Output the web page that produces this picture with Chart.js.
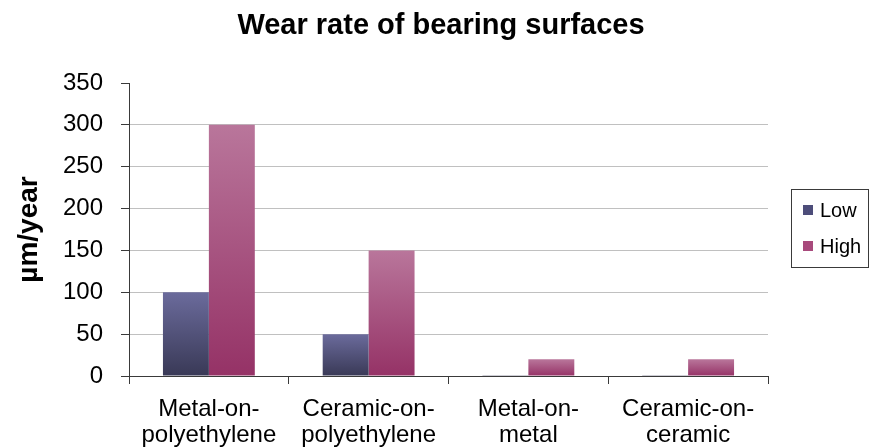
<!DOCTYPE html>
<html>
<head>
<meta charset="utf-8">
<script src="https://cdn.jsdelivr.net/npm/chart.js@4/dist/chart.umd.min.js"></script>
<style>
  html, body { margin: 0; padding: 0; background: #ffffff; }
  #wrap { width: 871px; height: 448px; }
</style>
</head>
<body>
<div id="wrap"><canvas id="chart" width="871" height="448"></canvas></div>
<script>
// Wear rate per bearing couple (µm/year)
const categories = [
  ['Metal-on-', 'polyethylene'],
  ['Ceramic-on-', 'polyethylene'],
  ['Metal-on-', 'metal'],
  ['Ceramic-on-', 'ceramic']
];
const lowValues = [100, 50, 1, 1];
const highValues = [300, 150, 20, 20];
const yTicks = [0, 50, 100, 150, 200, 250, 300, 350];
const chartTitle = 'Wear rate of bearing surfaces';

const FONT = "'Liberation Sans', Arial, sans-serif";

// Vertical gradient fill spanning each bar from its top to the baseline
function barFill(topColor, bottomColor) {
  return (ctx) => {
    const chart = ctx.chart;
    if (!chart.chartArea || ctx.type !== 'data') return bottomColor;
    const y = chart.scales.y;
    const yTop = y.getPixelForValue(ctx.raw);
    const yBase = y.getPixelForValue(0);
    if (!isFinite(yTop) || Math.abs(yBase - yTop) < 1) return bottomColor;
    const g = chart.ctx.createLinearGradient(0, yTop, 0, yBase);
    g.addColorStop(0, topColor);
    g.addColorStop(1, bottomColor);
    return g;
  };
}

const lowColors = { top: '#6b6b9c', bottom: '#393956', swatch: '#4d4d7a' };
const highColors = { top: '#b9769b', bottom: '#953266', swatch: '#a84a7c' };

// Title centred across the whole canvas
const pageTitle = {
  id: 'pageTitle',
  afterDraw(chart) {
    const c = chart.ctx;
    c.save();
    c.font = 'bold 29px ' + FONT;
    c.fillStyle = '#000';
    c.textAlign = 'center';
    c.textBaseline = 'middle';
    c.fillText(chartTitle, 441, 26);
    c.restore();
  }
};

// Boxed legend on the right side
const boxedLegend = {
  id: 'boxedLegend',
  afterDraw(chart) {
    const c = chart.ctx;
    const x0 = 791.5, y0 = 189.5, w = 77, h = 78;
    c.save();
    c.strokeStyle = '#3a3a3a';
    c.lineWidth = 1;
    c.strokeRect(x0, y0, w, h);
    c.font = '20px ' + FONT;
    c.textBaseline = 'middle';
    const items = [
      { label: chart.data.datasets[0].label, color: lowColors.swatch, y: 210 },
      { label: chart.data.datasets[1].label, color: highColors.swatch, y: 246 }
    ];
    items.forEach(it => {
      c.fillStyle = it.color;
      c.fillRect(803, it.y - 5, 10, 10);
      c.fillStyle = '#000';
      c.fillText(it.label, 820, it.y + 1);
    });
    c.restore();
  }
};

new Chart(document.getElementById('chart'), {
  type: 'bar',
  data: {
    labels: categories,
    datasets: [
      {
        label: 'Low',
        data: lowValues,
        backgroundColor: barFill(lowColors.top, lowColors.bottom),
        borderWidth: 0
      },
      {
        label: 'High',
        data: highValues,
        backgroundColor: barFill(highColors.top, highColors.bottom),
        borderWidth: 0
      }
    ]
  },
  options: {
    responsive: false,
    animation: false,
    layout: { padding: { left: 0, right: 103, top: 83, bottom: 0 } },
    datasets: {
      bar: { categoryPercentage: 0.575, barPercentage: 1.0 }
    },
    plugins: {
      legend: { display: false },
      tooltip: { enabled: false },
      title: { display: false }
    },
    scales: {
      x: {
        afterFit(scale) { scale.height = 72; },
        grid: {
          offset: true,
          drawOnChartArea: false,
          drawTicks: true,
          tickLength: 8,
          tickColor: '#3a3a3a'
        },
        border: { color: '#3a3a3a', width: 1 },
        ticks: {
          color: '#000',
          padding: 12,
          maxRotation: 0,
          autoSkip: false,
          font: { family: FONT, size: 24, lineHeight: 1.1 }
        }
      },
      y: {
        min: 0,
        max: 350,
        afterFit(scale) { scale.width = 129; },
        afterBuildTicks(scale) { scale.ticks = yTicks.map(v => ({ value: v })); },
        grid: {
          color: (ctx) => (ctx.tick && ctx.tick.value === 350) ? 'rgba(0,0,0,0)' : '#c0c0c0',
          lineWidth: 1,
          tickLength: 8,
          tickColor: '#3a3a3a'
        },
        border: { color: '#3a3a3a', width: 1 },
        ticks: {
          color: '#000',
          padding: 18,
          font: { family: FONT, size: 24 }
        },
        title: {
          display: true,
          text: 'µm/year',
          color: '#000',
          font: { family: FONT, size: 28, weight: 'bold' },
          padding: { top: 12, bottom: 0 }
        }
      }
    }
  },
  plugins: [pageTitle, boxedLegend]
});
</script>
</body>
</html>
